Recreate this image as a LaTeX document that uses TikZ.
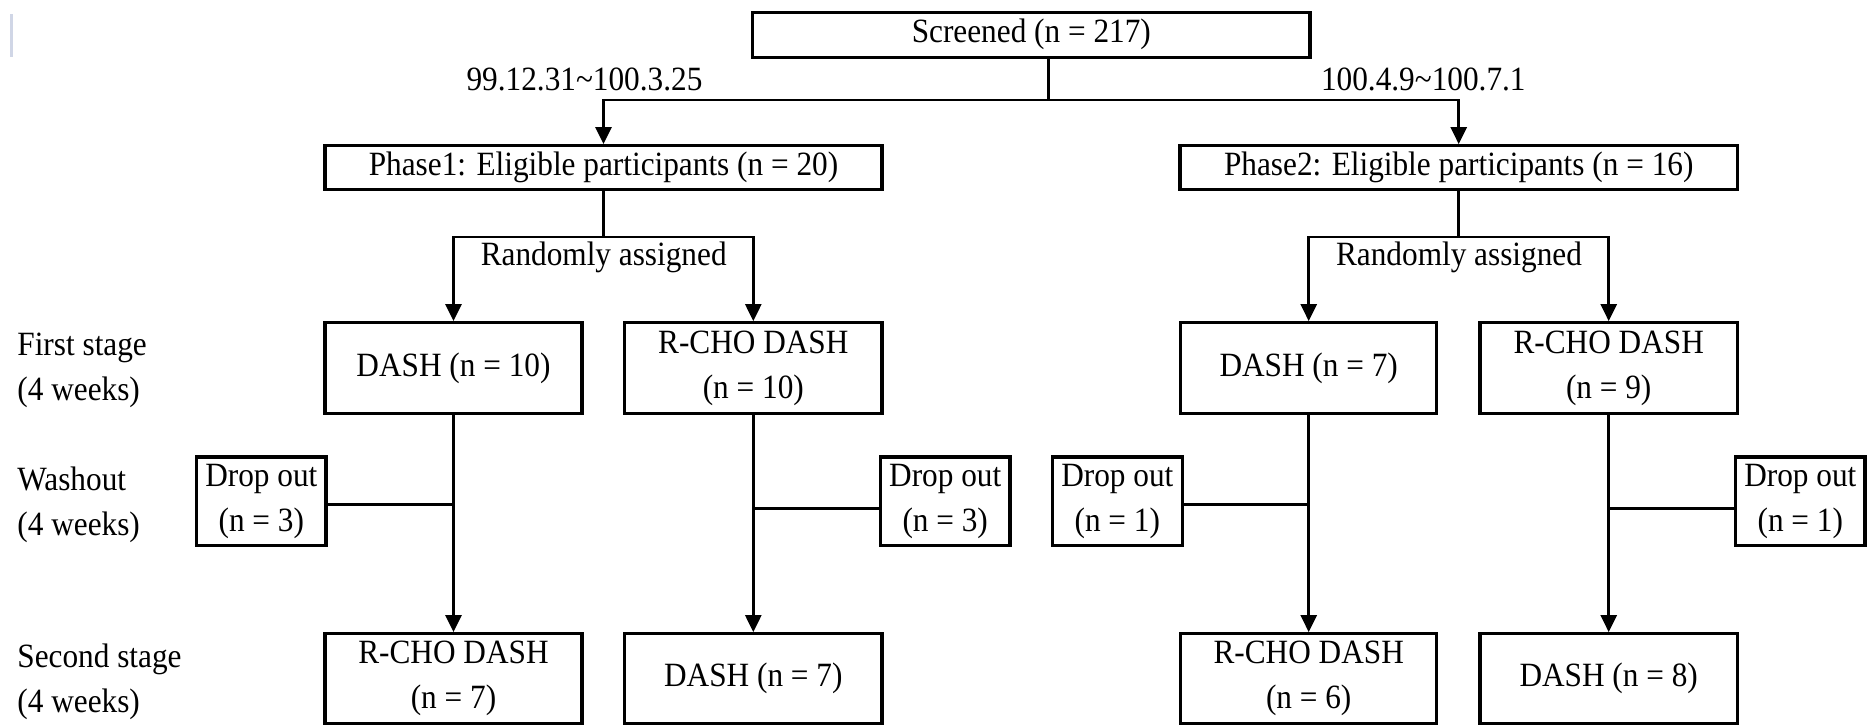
\documentclass[tikz,border=0pt]{standalone}
\usepackage{fontspec}
\setmainfont[FakeStretch=0.92]{Liberation Serif}
\usetikzlibrary{arrows.meta}
\definecolor{barblue}{RGB}{208,214,230}
\begin{document}
\begin{tikzpicture}[x=0.5pt,y=-0.5pt,
  every node/.style={font=\fontsize{17pt}{22.5pt}\selectfont},
  box/.style={draw, line width=1.6pt, inner sep=0pt, align=center},
  sz/.style 2 args={minimum width=#1*0.5pt, minimum height=#2*0.5pt},
  txt/.style={inner sep=0pt},
  link/.style={line width=1.3pt},
  arr/.style={link, -{Triangle[width=8pt,length=8.5pt]}}]

% canvas
\fill[white] (0,0) rectangle (1867,725);
\useasboundingbox (0,0) rectangle (1867,725);
\draw[barblue, line width=1.5pt] (11,14) -- (11,57);

% top of the chart
\node[box, sz={557.3}{45}] (scr) at (1031.3,34.8) {Screened (n = 217)};
\node[box, sz={557}{44}] (ph1) at (603.5,167.7) {Phase1: Eligible participants (n = 20)};
\node[box, sz={557.3}{44}] (ph2) at (1458.7,167.7) {Phase2: Eligible participants (n = 16)};

\node[txt, anchor=base] (d1) at (584.5,90.7) {99.12.31\textasciitilde100.3.25};
\node[txt, anchor=base] (d2) at (1423.3,90.7) {100.4.9\textasciitilde100.7.1};

% first stage
\node[box, sz={257}{91}] (a1) at (453.5,368.2) {DASH (n = 10)};
\node[box, sz={257.3}{91}] (b1) at (753.3,368.2) {R-CHO DASH\\(n = 10)};
\node[box, sz={256}{91}] (c1) at (1308.7,368.2) {DASH (n = 7)};
\node[box, sz={257.3}{91}] (e1) at (1608.7,368.2) {R-CHO DASH\\(n = 9)};

% washout drop-outs
\node[box, sz={129.3}{88.3}] (da) at (261.3,501.2) {Drop out\\(n = 3)};
\node[box, sz={129.7}{88.3}] (db) at (945.2,501.2) {Drop out\\(n = 3)};
\node[box, sz={130}{88.3}] (dc) at (1117.3,501.2) {Drop out\\(n = 1)};
\node[box, sz={129.3}{88.3}] (dd) at (1800.3,501.2) {Drop out\\(n = 1)};

% second stage
\node[box, sz={257}{90}] (a2) at (453.5,678.7) {R-CHO DASH\\(n = 7)};
\node[box, sz={257.3}{90}] (b2) at (753.3,678.7) {DASH (n = 7)};
\node[box, sz={256}{90}] (c2) at (1308.7,678.7) {R-CHO DASH\\(n = 6)};
\node[box, sz={257.3}{90}] (e2) at (1608.7,678.7) {DASH (n = 8)};

% period labels on the left
\node[txt, anchor=west, align=left] (l1) at (17,370) {First stage\\(4 weeks)};
\node[txt, anchor=west, align=left] (l2) at (17,505) {Washout\\(4 weeks)};
\node[txt, anchor=west, align=left] (l3) at (17,682) {Second stage\\(4 weeks)};

% split after screening
\coordinate (s0) at (1048.3,100);
\draw[link] (scr.south -| s0) -- (s0);
\draw[arr] (s0) -| (ph1.north);
\draw[arr] (s0) -| (ph2.north);

% randomisation
\coordinate (p1) at (603.5,237);
\coordinate (p2) at (1458.7,237);
\draw[link] (ph1.south) -- (p1);
\draw[arr] (p1) -| (a1.north);
\draw[arr] (p1) -| (b1.north);
\draw[link] (ph2.south) -- (p2);
\draw[arr] (p2) -| (c1.north);
\draw[arr] (p2) -| (e1.north);
\node[txt, anchor=base] (r1) at (603.7,265) {Randomly assigned};
\node[txt, anchor=base] (r2) at (1459,265) {Randomly assigned};

% crossover arrows
\draw[arr] (a1.south) -- (a2.north);
\draw[arr] (b1.south) -- (b2.north);
\draw[arr] (c1.south) -- (c2.north);
\draw[arr] (e1.south) -- (e2.north);

% drop-out branches
\coordinate (ja) at (453.5,504.7);
\coordinate (jb) at (753.3,508.7);
\coordinate (jc) at (1308.7,504.7);
\coordinate (je) at (1608.7,508.7);
\draw[link] (da.east |- ja) -- (ja);
\draw[link] (db.west |- jb) -- (jb);
\draw[link] (dc.east |- jc) -- (jc);
\draw[link] (dd.west |- je) -- (je);
\end{tikzpicture}
\end{document}
